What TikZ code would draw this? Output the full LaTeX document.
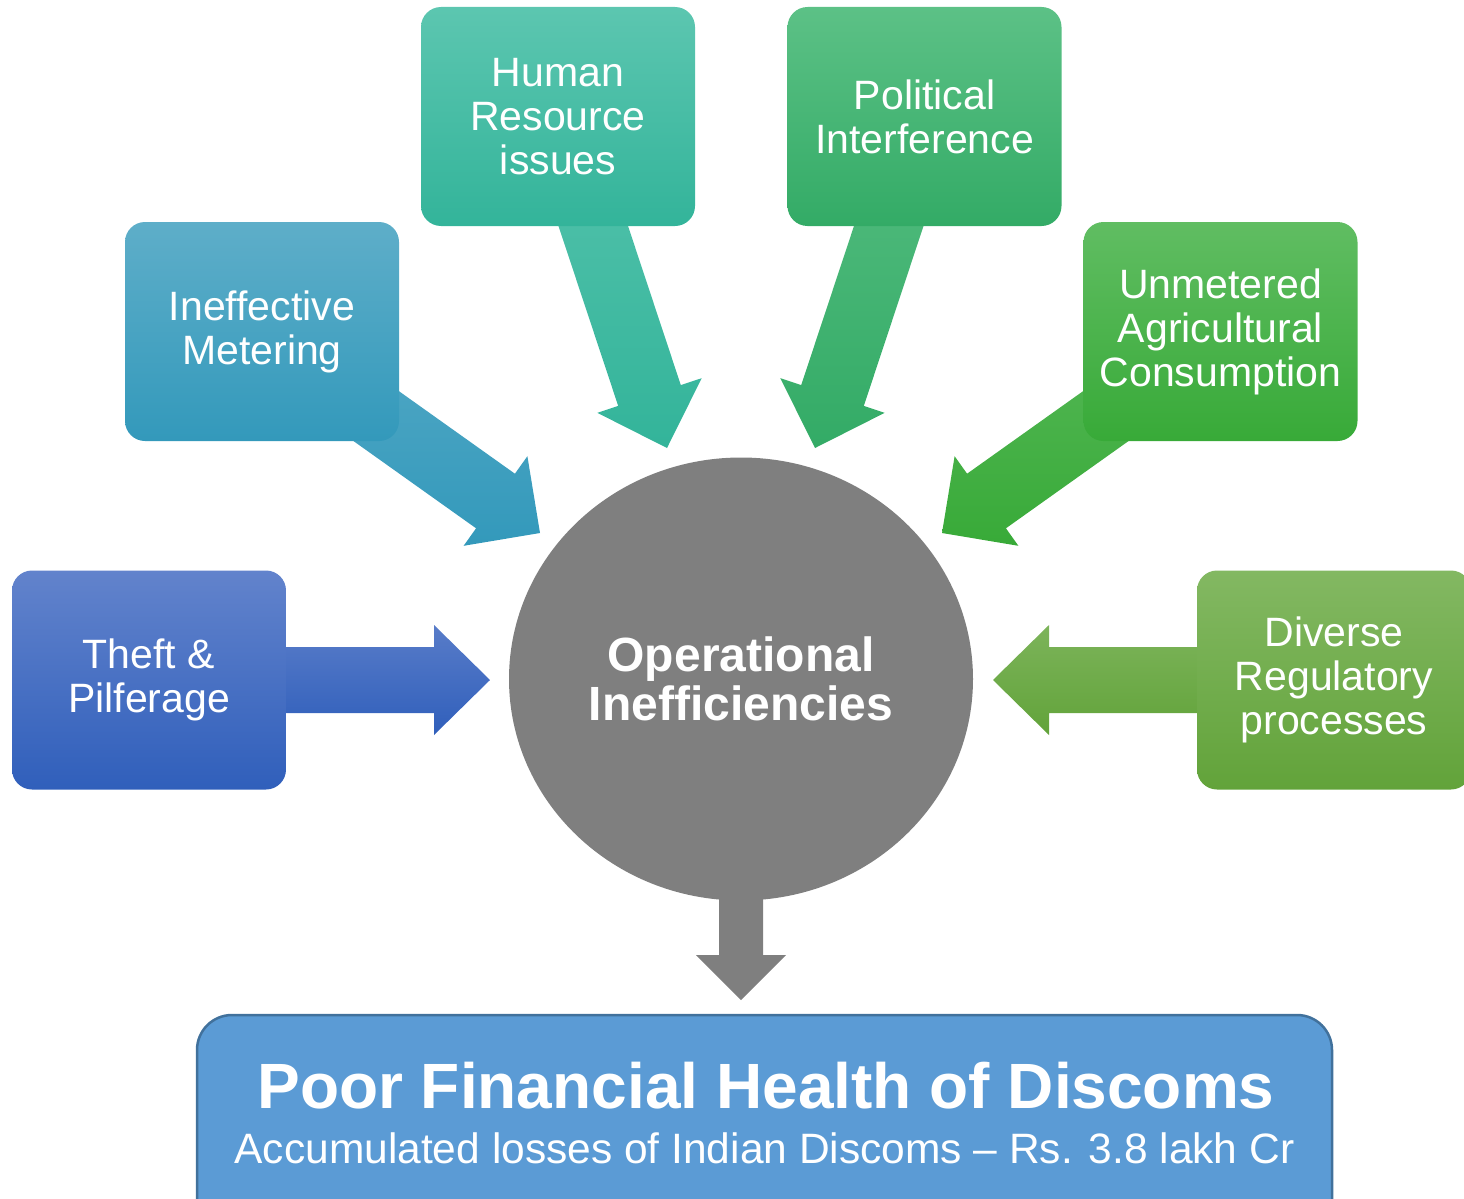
\documentclass[tikz,border=0pt]{standalone}
\usepackage{fontspec}
\setmainfont{Liberation Sans}
\usetikzlibrary{calc,shapes.geometric}

\definecolor{theftT}{HTML}{6283CC}
\definecolor{theftB}{HTML}{305FBB}
\definecolor{meterT}{HTML}{5EAEC9}
\definecolor{meterB}{HTML}{3399BB}
\definecolor{hrT}{HTML}{5CC6B0}
\definecolor{hrB}{HTML}{33B49A}
\definecolor{polT}{HTML}{5CC186}
\definecolor{polB}{HTML}{33AB66}
\definecolor{agriT}{HTML}{60BD62}
\definecolor{agriB}{HTML}{38AA38}
\definecolor{regT}{HTML}{83B862}
\definecolor{regB}{HTML}{62A33A}
\definecolor{opgray}{HTML}{7F7F7F}
\definecolor{healthFill}{HTML}{5B9BD5}
\definecolor{healthLine}{HTML}{41719C}

% block arrow: #1 tail, #2 head base centre, #3 tip,
% #4 shaft half width, #5 head half width, #6/#7 top/bottom colours
\newcommand\blockarrow[7]{%
  \path[top color=#6, bottom color=#7]
    ($(#1)!#4!90:(#2)$) -- ($(#2)!#4!-90:(#1)$) -- ($(#2)!#5!-90:(#1)$)
    -- (#3)
    -- ($(#2)!#5!90:(#1)$) -- ($(#2)!#4!90:(#1)$) -- ($(#1)!#4!-90:(#2)$) -- cycle;
}

\tikzset{
  card/.style={rounded corners=20pt, minimum width=274pt, minimum height=219pt,
    inner sep=0pt, text=white, align=center,
    font=\fontsize{41}{44}\selectfont},
}

\begin{document}
\begin{tikzpicture}[x=1pt, y=-1pt]
\useasboundingbox (0,0) rectangle (1464,1199);
\clip (0,0) rectangle (1464,1199);

% arrow geometry
\coordinate (theftTail) at (250,680);
\coordinate (theftBase) at (434,680);
\coordinate (theftTip)  at (490,680);
\coordinate (meterTail) at (340.5,390.7);
\coordinate (meterBase) at (495.5,501);
\coordinate (meterTip)  at (540,533);
\coordinate (hrTail) at (577,177);
\coordinate (hrBase) at (649.5,395.5);
\coordinate (hrTip)  at (667,448);
\coordinate (polTail) at (905,177);
\coordinate (polBase) at (832.5,395.5);
\coordinate (polTip)  at (815,448);
\coordinate (agriTail) at (1141.5,390.7);
\coordinate (agriBase) at (986.5,501);
\coordinate (agriTip)  at (942,533);
\coordinate (regTail) at (1230,680);
\coordinate (regBase) at (1049,680);
\coordinate (regTip)  at (993,680);
\coordinate (opsTail) at (741,860);
\coordinate (opsBase) at (741,955);
\coordinate (opsTip)  at (741,1000);

\blockarrow{theftTail}{theftBase}{theftTip}{33pt}{55pt}{theftT!80!theftB}{theftB}
\blockarrow{meterTail}{meterBase}{meterTip}{33.5pt}{55pt}{meterT!60!meterB}{meterB}
\blockarrow{hrTail}{hrBase}{hrTip}{33pt}{55pt}{hrT!70!hrB}{hrB}
\blockarrow{polTail}{polBase}{polTip}{33pt}{55pt}{polT!70!polB}{polB}
\blockarrow{agriTail}{agriBase}{agriTip}{33.5pt}{55pt}{agriT!60!agriB}{agriB}
\blockarrow{regTail}{regBase}{regTip}{33pt}{55pt}{regT!80!regB}{regB}
\blockarrow{opsTail}{opsBase}{opsTip}{22pt}{45pt}{opgray}{opgray}

% cause boxes
\node[card, top color=theftT, bottom color=theftB] (theft) at (149,680) {Theft \&\\Pilferage};
\node[card, top color=meterT, bottom color=meterB] (meter) at (262,331.5) {Ineffective\\Metering};
\node[card, top color=hrT, bottom color=hrB] (hr) at (558,116.5) {Human\\Resource\\issues};
\node[card, top color=polT, bottom color=polB] (pol) at (924.5,116.5) {Political\\Interference};
\node[card, top color=agriT, bottom color=agriB] (agri) at (1220.5,331.5) {Unmetered\\Agricultural\\Consumption};
\node[card, top color=regT, bottom color=regB] (reg) at (1334,680) {Diverse\\Regulatory\\processes};

% central circle
\node[ellipse, fill=opgray, minimum width=464pt, minimum height=443pt, inner sep=0pt,
  text=white, align=center, font=\bfseries\fontsize{48}{49}\selectfont] (ops) at (741,679)
  {Operational\\Inefficiencies};

% outcome box
\node[draw=healthLine, line width=2.5pt, fill=healthFill, rounded corners=35pt,
  minimum width=1135pt, minimum height=230pt, inner sep=0pt] (health) at (764.5,1130) {};
\node[anchor=base, text=white, inner sep=0pt, font=\bfseries\fontsize{64}{70}\selectfont]
  (healthTitle) at (766,1108) {Poor Financial Health of Discoms};
\node[anchor=base, text=white, inner sep=0pt, font=\fontsize{42.5}{46}\selectfont]
  (healthSub) at (764.5,1163) {Accumulated losses of Indian Discoms – Rs. 3.8 lakh Cr};
\end{tikzpicture}
\end{document}
